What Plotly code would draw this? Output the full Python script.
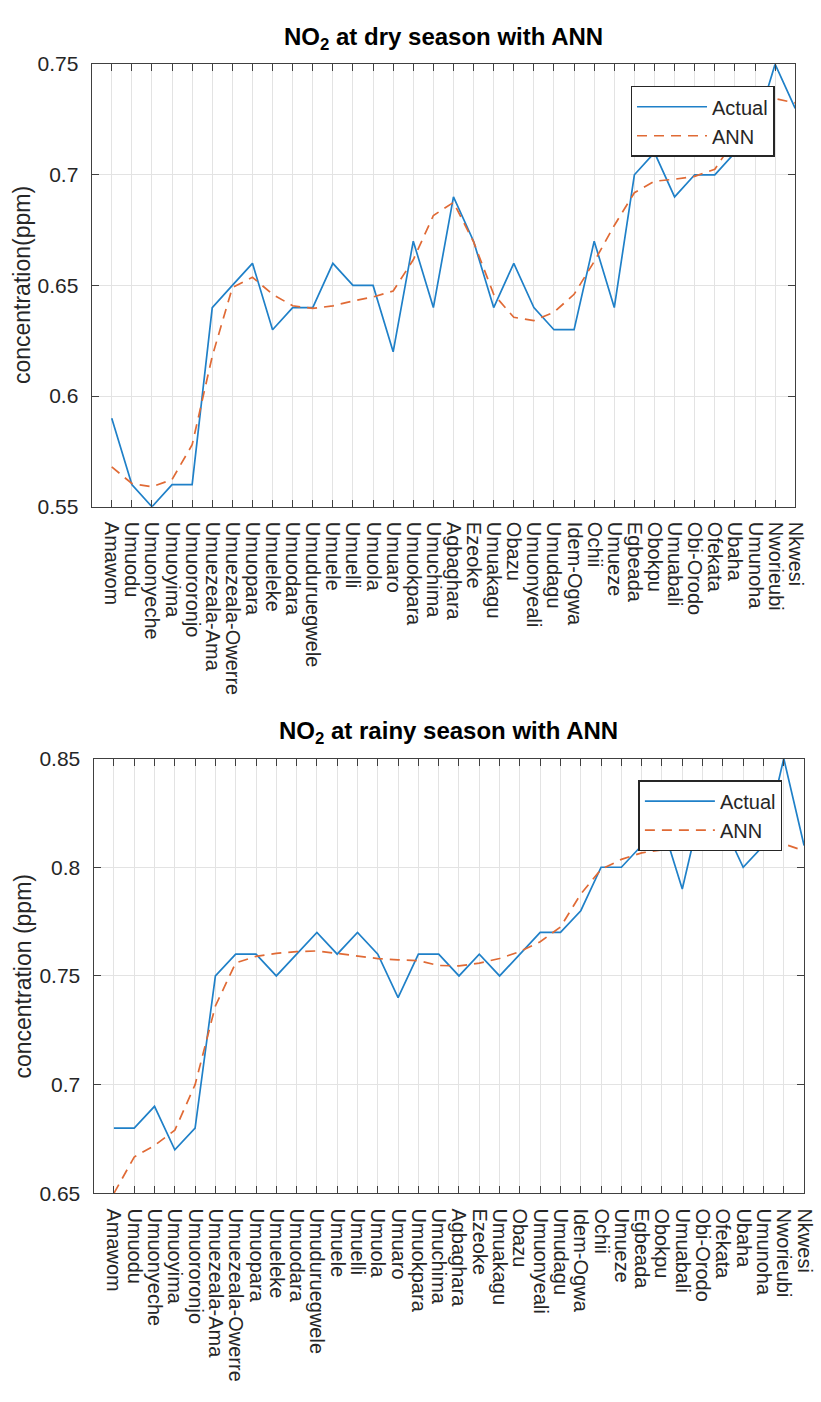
import plotly.graph_objects as go

sites = ["Amawom", "Umuodu", "Umuonyeche", "Umuoyima", "Umuororonjo", "Umuezeala-Ama",
         "Umuezeala-Owerre", "Umuopara", "Umueleke", "Umuodara", "Umuduruegwele", "Umuele",
         "Umuelli", "Umuola", "Umuaro", "Umuokpara", "Umuchima", "Agbaghara", "Ezeoke",
         "Umuakagu", "Obazu", "Umuonyeali", "Umudagu", "Idem-Ogwa", "Ochii", "Umueze",
         "Egbeada", "Obokpu", "Umuabali", "Obi-Orodo", "Ofekata", "Ubaha", "Umunoha",
         "Nworieubi", "Nkwesi"]
idx = list(range(1, len(sites) + 1))

dry_actual = [0.59, 0.56, 0.55, 0.56, 0.56, 0.64, 0.65, 0.66, 0.63, 0.64, 0.64, 0.66,
              0.65, 0.65, 0.62, 0.67, 0.64, 0.69, 0.67, 0.64, 0.66, 0.64, 0.63, 0.63,
              0.67, 0.64, 0.70, 0.71, 0.69, 0.70, 0.70, 0.71, 0.72, 0.75, 0.73]
dry_ann = [0.568, 0.5605, 0.559, 0.5623, 0.578, 0.618, 0.649, 0.6537, 0.646, 0.6408,
           0.6396, 0.6408, 0.643, 0.6448, 0.6475, 0.6616, 0.6816, 0.6875, 0.6697, 0.646,
           0.6356, 0.6341, 0.6379, 0.646, 0.6608, 0.6771, 0.6919, 0.6971, 0.698, 0.6993,
           0.7025, 0.716, 0.727, 0.7344, 0.7325]

rainy_actual = [0.68, 0.68, 0.69, 0.67, 0.68, 0.75, 0.76, 0.76, 0.75, 0.76, 0.77, 0.76,
                0.77, 0.76, 0.74, 0.76, 0.76, 0.75, 0.76, 0.75, 0.76, 0.77, 0.77, 0.78,
                0.80, 0.80, 0.81, 0.82, 0.79, 0.83, 0.82, 0.80, 0.81, 0.85, 0.81]
rainy_ann = [0.65, 0.6667, 0.672, 0.679, 0.70, 0.7362, 0.756, 0.759, 0.7604, 0.7612,
             0.7615, 0.7604, 0.759, 0.758, 0.7574, 0.757, 0.7548, 0.7546, 0.7559, 0.758,
             0.7612, 0.7657, 0.7725, 0.7877, 0.799, 0.8036, 0.8066, 0.808, 0.809, 0.8096,
             0.8104, 0.811, 0.811, 0.8107, 0.8076]

dry_yticks = [0.55, 0.6, 0.65, 0.7, 0.75]
rainy_yticks = [0.65, 0.7, 0.75, 0.8, 0.85]

W, H = 821, 1402
BLUE = "#1F80C8"
ORANGE = "#E06A35"
FONT = "Liberation Sans, Arial, Helvetica, sans-serif"
AXC = "#404040"
GRID = "#e3e3e3"

fig = go.Figure()
fig.add_trace(go.Scatter(x=idx, y=dry_actual, mode="lines", name="Actual",
                         line=dict(color=BLUE, width=1.7), xaxis="x", yaxis="y", legend="legend"))
fig.add_trace(go.Scatter(x=idx, y=dry_ann, mode="lines", name="ANN",
                         line=dict(color=ORANGE, width=1.7, dash="10px,7px"), xaxis="x", yaxis="y", legend="legend"))
fig.add_trace(go.Scatter(x=idx, y=rainy_actual, mode="lines", name="Actual",
                         line=dict(color=BLUE, width=1.7), xaxis="x2", yaxis="y2", legend="legend2"))
fig.add_trace(go.Scatter(x=idx, y=rainy_ann, mode="lines", name="ANN",
                         line=dict(color=ORANGE, width=1.7, dash="10px,7px"), xaxis="x2", yaxis="y2", legend="legend2"))

def px_x(p):
    return p / W

def px_y(p):
    return 1 - p / H

common_x = dict(tickmode="array", tickvals=idx, ticktext=sites, range=[0, len(sites)],
                tickangle=90, showgrid=True, gridcolor=GRID, gridwidth=1,
                showline=True, linecolor=AXC, linewidth=1.2, mirror="ticks",
                ticks="inside", ticklen=7, tickcolor=AXC, zeroline=False,
                tickfont=dict(family=FONT, size=20, color="#262626"), ticklabelstandoff=10)
common_y = dict(tickmode="array", showgrid=True, gridcolor=GRID, gridwidth=1,
                showline=True, linecolor=AXC, linewidth=1.2, mirror="ticks",
                ticks="inside", ticklen=7, tickcolor=AXC, zeroline=False,
                tickfont=dict(family=FONT, size=21, color="#262626"), ticklabelstandoff=8)

legend_style = dict(xanchor="right", yanchor="top", bgcolor="white",
                    bordercolor="#262626", borderwidth=1.5,
                    font=dict(family=FONT, size=20, color="#262626"), itemwidth=70,
                    tracegroupgap=0)

fig.update_layout(
    width=W, height=H, margin=dict(l=0, r=0, t=0, b=0),
    paper_bgcolor="white", plot_bgcolor="white",
    font=dict(family=FONT, color="#262626"),
    xaxis=dict(domain=[px_x(93), px_x(807)], anchor="y", **common_x),
    yaxis=dict(domain=[px_y(503), px_y(53)], anchor="x", range=[0.55, 0.75],
               tickvals=dry_yticks, ticktext=[f"{v:g}" for v in dry_yticks], **common_y),
    xaxis2=dict(domain=[px_x(95), px_x(816)], anchor="y2", **common_x),
    yaxis2=dict(domain=[px_y(1201), px_y(759)], anchor="x2", range=[0.65, 0.85],
                tickvals=rainy_yticks, ticktext=[f"{v:g}" for v in rainy_yticks], **common_y),
    legend=dict(x=px_x(786), y=px_y(75), **legend_style),
    legend2=dict(x=px_x(794), y=px_y(781), **legend_style),
    annotations=[
        dict(text="<b>NO<sub>2</sub> at dry season with ANN</b>", x=px_x(450), y=px_y(27),
             xref="paper", yref="paper", xanchor="center", yanchor="middle", showarrow=False,
             font=dict(family=FONT, size=24, color="black")),
        dict(text="<b>NO<sub>2</sub> at rainy season with ANN</b>", x=px_x(455), y=px_y(733),
             xref="paper", yref="paper", xanchor="center", yanchor="middle", showarrow=False,
             font=dict(family=FONT, size=24, color="black")),
        dict(text="concentration(ppm)", x=px_x(23), y=px_y(278), textangle=-90,
             xref="paper", yref="paper", xanchor="center", yanchor="middle", showarrow=False,
             font=dict(family=FONT, size=23, color="#262626")),
        dict(text="concentration (ppm)", x=px_x(23), y=px_y(980), textangle=-90,
             xref="paper", yref="paper", xanchor="center", yanchor="middle", showarrow=False,
             font=dict(family=FONT, size=23, color="#262626")),
    ],
)

fig.write_html("out.html")
